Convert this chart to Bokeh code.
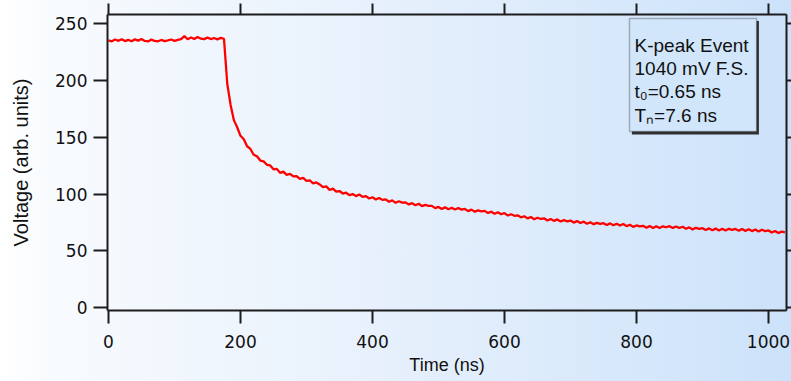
from bokeh.plotting import figure
from bokeh.models import (Range1d, LinearAxis, FixedTicker, Label, BoxAnnotation,
                          CustomJSTickFormatter)
from bokeh.embed import file_html
from bokeh.resources import INLINE

# ---- data ----
time_flat = [0, 5, 10, 15, 20, 25, 30, 35, 40, 45, 50, 55, 60, 65, 70, 75, 80, 85,
             90, 95, 100, 105, 110, 115, 120, 125, 130, 135, 140, 145, 150, 155,
             160, 165, 170, 175]
volt_flat = [235.5, 234.6, 236.2, 235.0, 236.5, 234.8, 235.9, 234.7, 236.3, 235.2,
             236.6, 234.9, 234.5, 236.1, 234.9, 234.6, 235.8, 234.7, 235.4, 236.2,
             235.0, 235.9, 236.5, 239.2, 236.4, 237.9, 236.7, 238.4, 236.9, 236.5,
             237.8, 236.6, 237.5, 236.3, 237.6, 236.8]

time_decay = list(range(180, 1026, 5))
volt_decay = [197.0, 178.6, 165.2, 158.9, 151.4, 148.3, 142.2, 139.8, 134.7, 133.4,
              129.6, 128.9, 125.9, 125.3, 121.9, 122.3, 118.8, 119.9, 117.0, 117.9,
              115.6, 115.8, 113.5, 114.4, 111.8, 112.2, 109.6, 110.3, 108.6, 106.2,
              106.9, 103.7, 104.9, 102.2, 102.8, 100.6, 101.3, 99.2, 100.1, 98.3,
              99.7, 97.6, 98.3, 96.2, 97.3, 95.3, 96.7, 95.0, 95.4, 93.3,
              94.5, 92.4, 93.8, 92.6, 92.8, 91.0, 92.1, 90.2, 91.6, 89.5,
              90.6, 89.8, 89.7, 87.7, 88.8, 87.0, 88.4, 86.8, 88.1, 86.5,
              87.9, 86.4, 87.0, 85.1, 86.4, 84.6, 85.8, 84.9, 85.3, 83.4,
              84.6, 82.8, 84.1, 82.3, 83.4, 81.2, 82.3, 81.0, 81.4, 79.6,
              80.6, 78.7, 79.9, 78.0, 79.3, 78.2, 78.8, 76.9, 78.2, 76.5,
              77.8, 76.0, 77.2, 76.1, 76.8, 75.0, 76.3, 74.6, 75.8, 74.0,
              75.3, 73.6, 74.8, 73.8, 74.5, 72.9, 74.3, 72.6, 74.0, 72.5,
              73.8, 71.9, 73.1, 71.2, 72.5, 71.6, 72.2, 70.5, 71.9, 70.2,
              71.8, 70.3, 71.7, 70.9, 71.8, 70.3, 71.6, 70.2, 71.3, 69.6,
              70.8, 69.0, 70.4, 69.5, 70.1, 68.4, 69.9, 68.2, 69.7, 68.1,
              69.6, 68.0, 69.5, 68.6, 69.4, 67.9, 69.3, 67.7, 69.2, 67.5,
              69.0, 67.2, 68.7, 67.5, 68.1, 66.2, 67.6, 65.8, 67.0, 66.3]

time_ns = time_flat + time_decay
voltage = volt_flat + volt_decay

x_ticks = [0, 200, 400, 600, 800, 1000]
y_ticks = [0, 50, 100, 150, 200, 250]

info_lines = ["K-peak Event", "1040 mV F.S.", "t\u2080=0.65 ns", "T\u2099=7.6 ns"]

# ---- figure ----
p = figure(width=791, height=381, output_backend="svg", toolbar_location=None,
           x_range=Range1d(-1.5, 1027.3), y_range=Range1d(-2.4, 258.2),
           min_border_left=107, min_border_right=5, min_border_top=14,
           min_border_bottom=71)
p.styles = {"background": "linear-gradient(to right, #ffffff 0px, #f8fbfe 48px, #e6f0fc 50%, #cce2fa 100%)"}
p.background_fill_alpha = 0
p.border_fill_alpha = 0
p.outline_line_color = None
p.grid.visible = False

AX = "#1c1c1c"

def style_axis(ax, tick_out):
    ax.axis_line_color = AX
    ax.axis_line_width = 2
    ax.major_tick_line_color = AX
    ax.major_tick_line_width = 2
    ax.major_tick_out = tick_out
    ax.major_tick_in = 0
    ax.minor_tick_line_color = None
    ax.major_label_text_font = "DejaVu Sans"
    ax.major_label_text_font_size = "17px"
    ax.major_label_text_color = "#111111"

xa = p.xaxis[0]
style_axis(xa, 13)
xa.ticker = FixedTicker(ticks=x_ticks)
xa.major_label_standoff = 11
xa.axis_label = "Time (ns)"
xa.axis_label_text_font = "Liberation Sans"
xa.axis_label_text_font_size = "18px"
xa.axis_label_text_font_style = "normal"
xa.axis_label_text_color = "#111111"
xa.axis_label_standoff = 4

ya = p.yaxis[0]
style_axis(ya, 14)
ya.ticker = FixedTicker(ticks=y_ticks)
ya.major_label_standoff = 6
ya.axis_label = "Voltage (arb. units)"
ya.axis_label_text_font = "Liberation Sans"
ya.axis_label_text_font_size = "20px"
ya.axis_label_text_font_style = "normal"
ya.axis_label_text_color = "#111111"
ya.axis_label_standoff = 20

blank = CustomJSTickFormatter(code="return ''")

top = LinearAxis(ticker=FixedTicker(ticks=x_ticks), formatter=blank)
style_axis(top, 11)
top.major_label_text_font_size = "1px"
top.major_label_standoff = 0
p.add_layout(top, "above")

right = LinearAxis(ticker=FixedTicker(ticks=y_ticks), formatter=blank)
style_axis(right, 5)
right.major_label_text_font_size = "1px"
right.major_label_standoff = 0
p.add_layout(right, "right")

p.line(time_ns, voltage, line_color="#ff0000", line_width=2.3)

# ---- info box (shadow + box + text) ----
p.add_layout(BoxAnnotation(left=793, right=985.5, top=252.5, bottom=152.5,
                           fill_color="#303030", fill_alpha=1, line_color=None))
p.add_layout(BoxAnnotation(left=789.4, right=982, top=254.7, bottom=155.2,
                           fill_color="#d2e6fb", fill_alpha=1,
                           line_color="#1c1c1c", line_width=1.5))
for txt, yy in zip(info_lines, [230.9, 210.7, 190.4, 169.3]):
    p.add_layout(Label(x=797, y=yy, text=txt, text_font="Liberation Sans",
                       text_font_size="19px", text_color="#111111",
                       text_baseline="alphabetic", text_align="left"))

open("out.html", "w").write(file_html(p, INLINE))
